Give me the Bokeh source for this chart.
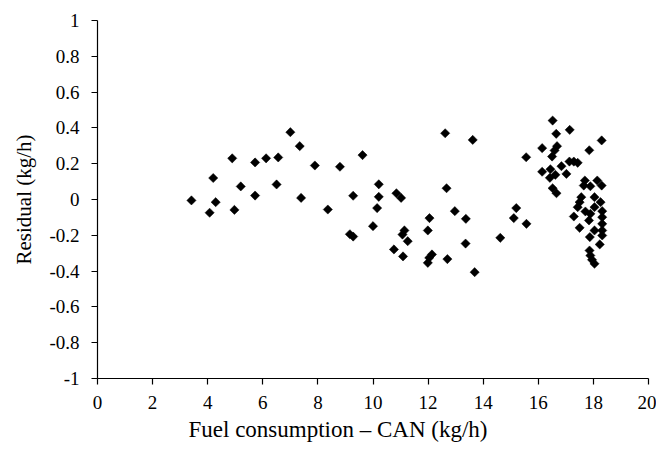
import math
from bokeh.plotting import figure
from bokeh.models import ColumnDataSource, FixedTicker, Range1d, Title
from bokeh.embed import file_html
from bokeh.resources import INLINE

# Fuel consumption measured via CAN (kg/h) and model residual (kg/h)
fuel_can = [
    3.41, 4.07, 4.20, 4.29, 4.89, 4.97, 5.20, 5.72, 5.72, 6.12, 6.50, 6.56, 7.00, 7.34, 7.39,
    7.89, 8.36, 8.80, 9.62, 9.28, 9.16, 9.28, 10.21, 10.21, 10.15, 10.00, 10.85, 11.02, 11.14,
    11.07, 11.26, 10.76, 11.09, 12.62, 13.62, 12.67, 12.97, 13.37, 12.05, 11.99, 12.14, 12.04,
    11.99, 12.70, 13.36, 13.69, 14.62,
    15.20, 15.11, 15.57, 15.56,
    16.52, 16.65, 17.14, 18.30, 16.14, 16.68, 16.59, 16.50, 17.85, 17.13, 17.29, 17.43, 16.14,
    16.84, 16.44, 16.62, 16.42, 17.02, 16.52, 16.66, 17.69, 17.89, 18.14, 18.30, 17.65, 18.04,
    17.56, 17.50, 18.26, 17.43, 18.04, 17.71, 17.89, 17.29, 18.32, 18.32, 17.84, 18.32, 17.50,
    18.04, 18.32, 18.32, 17.87, 18.23, 17.86, 17.89, 17.95, 18.04,
]
residual = [
    -0.005, -0.074, 0.120, -0.015, 0.230, -0.058, 0.073, 0.207, 0.022, 0.230, 0.084, 0.235, 0.376, 0.298, 0.009,
    0.190, -0.056, 0.183, 0.248, 0.021, -0.194, -0.207, 0.085, 0.015, -0.048, -0.149, 0.035, 0.009, -0.173,
    -0.196, -0.233, -0.279, -0.318, 0.370, 0.333, 0.063, -0.065, -0.108, -0.104, -0.173, -0.307, -0.326,
    -0.354, -0.333, -0.246, -0.406, -0.214,
    -0.048, -0.104, -0.136, 0.236,
    0.441, 0.367, 0.389, 0.330, 0.287, 0.298, 0.274, 0.240, 0.275, 0.212, 0.212, 0.205, 0.155,
    0.186, 0.169, 0.138, 0.121, 0.143, 0.063, 0.035, 0.106, 0.074, 0.106, 0.078, 0.078, 0.013,
    0.013, -0.015, -0.015, -0.043, -0.043, -0.067, -0.080, -0.095, -0.065, -0.099, -0.117, -0.136, -0.158,
    -0.173, -0.173, -0.201, -0.210, -0.251, -0.285, -0.313, -0.337, -0.359,
]

x_ticks = [0, 2, 4, 6, 8, 10, 12, 14, 16, 18, 20]
y_ticks = [-1, -0.8, -0.6, -0.4, -0.2, 0, 0.2, 0.4, 0.6, 0.8, 1]
y_tick_labels = ["-1", "-0.8", "-0.6", "-0.4", "-0.2", "0", "0.2", "0.4", "0.6", "0.8", "1"]

FONT = "Liberation Serif"

p = figure(
    width=656, height=450,
    x_range=Range1d(0, 20), y_range=Range1d(-1, 1),
    output_backend="svg", toolbar_location=None,
    min_border_left=97, min_border_right=8, min_border_top=20, min_border_bottom=72,
)
p.outline_line_color = None
p.xgrid.visible = False
p.ygrid.visible = False

src = ColumnDataSource(dict(x=fuel_can, y=residual))
p.scatter("x", "y", source=src, marker="square", size=6.5, angle=math.pi / 4,
          fill_color="black", line_color="black", line_width=0.5)

for ax in (p.xaxis[0], p.yaxis[0]):
    ax.axis_line_color = "black"
    ax.axis_line_width = 1.2
    ax.major_tick_line_color = "black"
    ax.major_tick_line_width = 1.2
    ax.major_tick_out = 6
    ax.major_tick_in = 0
    ax.minor_tick_line_color = None
    ax.major_label_text_font = FONT
    ax.major_label_text_font_size = "19px"
    ax.major_label_text_color = "black"
    ax.axis_label_text_font = FONT
    ax.axis_label_text_font_style = "normal"
    ax.axis_label_text_color = "black"

p.xaxis.ticker = FixedTicker(ticks=x_ticks)
p.yaxis.ticker = FixedTicker(ticks=y_ticks)
p.yaxis.major_label_overrides = {t: s for t, s in zip(y_ticks, y_tick_labels)}
p.xaxis.major_label_overrides = {t: str(t) for t in x_ticks}
p.xaxis.major_label_standoff = 11
p.yaxis.major_label_standoff = 12

p.yaxis.axis_label = "Residual (kg/h)"
p.yaxis.axis_label_text_font_size = "21px"
p.yaxis.axis_label_standoff = 10

# x-axis title set slightly left of the frame centre
x_title = Title(text="Fuel consumption \u2013 CAN (kg/h)", align="left", offset=91,
                text_font=FONT, text_font_size="23px", text_font_style="normal",
                text_color="black", standoff=6)
p.add_layout(x_title, "below")

open("out.html", "w").write(file_html(p, INLINE))
